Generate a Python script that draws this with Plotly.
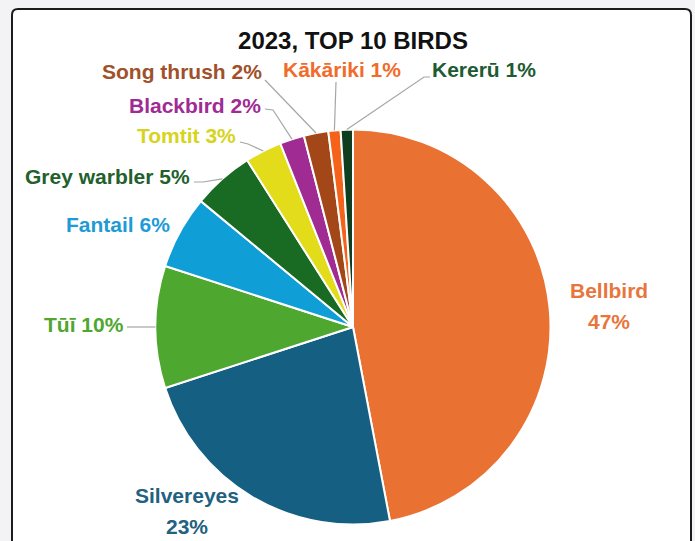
import math
import plotly.graph_objects as go

# ---------------- data ----------------
birds = ["Bellbird", "Silvereyes", "Tūī", "Fantail", "Grey warbler",
         "Tomtit", "Blackbird", "Song thrush", "Kākāriki", "Kererū"]
shares = [47, 23, 10, 6, 5, 3, 2, 2, 1, 1]
title_text = "2023, TOP 10 BIRDS"

# ---------------- styles ----------------
slice_colors = ["#E97132", "#156082", "#4EA72E", "#0F9ED5", "#196B24",
                "#E2DC1B", "#A02B93", "#A34718", "#F5621A", "#0E3D20"]
text_colors = ["#E8763C", "#22617F", "#4EA72E", "#1E9BD7", "#22602C",
               "#D6D420", "#A02B93", "#A0502A", "#F26B2A", "#1E5B32"]

W, H = 695, 541
CX, CY, R = 353.0, 327.0, 197.5          # pie centre / radius in px

# label layout: (anchor x px, y px, xanchor, two_line, second line y px)
label_layout = {
    "Bellbird":     (609, 290, "center", True, 321),
    "Silvereyes":   (187, 495, "center", True, 526),
    "Tūī":          (126, 324, "right", False, None),
    "Fantail":      (172, 225, "right", False, None),
    "Grey warbler": (192, 177, "right", False, None),
    "Tomtit":       (238, 135, "right", False, None),
    "Blackbird":    (263, 105, "right", False, None),
    "Song thrush":  (264, 71, "right", False, None),
    "Kākāriki":     (342, 70, "center", False, None),
    "Kererū":       (430, 70, "left", False, None),
}
# leader lines: start point(s) near the label, in px (end point is computed on the pie)
leader_layout = {
    "Tūī":          [(127, 327)],
    "Grey warbler": [(194, 182), (203, 182)],
    "Tomtit":       [(240, 142), (248, 144)],
    "Blackbird":    [(265, 109), (273, 110)],
    "Song thrush":  [(265, 80)],
    "Kākāriki":     [(336, 82)],
    "Kererū":       [(430, 77), (424, 77)],
}

LABEL_FONT = "Liberation Sans, Arial, sans-serif"
TITLE_FONT = "Liberation Sans, Arial, sans-serif"


def px(x):
    return x / W


def py(y):
    return 1 - y / H


fig = go.Figure()
fig.add_trace(go.Pie(
    labels=birds,
    values=shares,
    sort=False,
    direction="clockwise",
    rotation=0,
    marker=dict(colors=slice_colors, line=dict(color="white", width=2)),
    textinfo="none",
    hoverinfo="label+percent",
    showlegend=False,
    domain=dict(x=[px(CX - R), px(CX + R)], y=[py(CY + R), py(CY - R)]),
))

# ---- card background ----
x0, x1, y0, y1, rr = 12, 691, 9, 560, 6
card_path = (
    f"M {px(x0+rr)},{py(y0)} L {px(x1-rr)},{py(y0)} "
    f"Q {px(x1)},{py(y0)} {px(x1)},{py(y0+rr)} "
    f"L {px(x1)},{py(y1-rr)} Q {px(x1)},{py(y1)} {px(x1-rr)},{py(y1)} "
    f"L {px(x0+rr)},{py(y1)} Q {px(x0)},{py(y1)} {px(x0)},{py(y1-rr)} "
    f"L {px(x0)},{py(y0+rr)} Q {px(x0)},{py(y0)} {px(x0+rr)},{py(y0)} Z"
)
shapes = [dict(type="path", xref="paper", yref="paper", path=card_path,
               fillcolor="white", line=dict(color="#1c1c1c", width=2),
               layer="below")]

# ---- labels & leader lines computed from the data ----
total = sum(shares)
annotations = []
cum = 0
for bird, share, tcol in zip(birds, shares, text_colors):
    mid = (cum + share / 2) / total
    cum += share
    theta = 2 * math.pi * mid
    ex = CX + R * math.sin(theta)
    ey = CY - R * math.cos(theta)
    pct = round(100 * share / total)
    lx, ly, xa, two, ly2 = label_layout[bird]
    if two:
        lines = [(bird, ly), (f"{pct}%", ly2)]
    else:
        lines = [(f"{bird} {pct}%", ly)]
    for txt, yy in lines:
        annotations.append(dict(
            x=px(lx), y=py(yy), xref="paper", yref="paper",
            text=f"<b>{txt}</b>", showarrow=False,
            xanchor=xa, yanchor="middle",
            font=dict(family=LABEL_FONT, size=21, color=tcol),
        ))
    if bird in leader_layout:
        pts = leader_layout[bird] + [(ex, ey)]
        path = "M " + " L ".join(f"{px(a)},{py(b)}" for a, b in pts)
        shapes.append(dict(type="path", xref="paper", yref="paper", path=path,
                           line=dict(color="#A6A6A6", width=1.2), layer="above"))

fig.update_layout(
    width=W, height=H,
    margin=dict(l=0, r=0, t=0, b=0),
    paper_bgcolor="#F3F2F5",
    plot_bgcolor="#F3F2F5",
    title=dict(text=f"<b>{title_text}</b>", x=px(353), y=py(41),
               xanchor="center", yanchor="middle",
               font=dict(family=TITLE_FONT, size=24, color="#111111")),
    shapes=shapes,
    annotations=annotations,
)

fig.write_html(
    "out.html",
    config={"displayModeBar": False},
    post_script="document.body.style.margin='0';document.body.style.overflow='hidden';",
)
